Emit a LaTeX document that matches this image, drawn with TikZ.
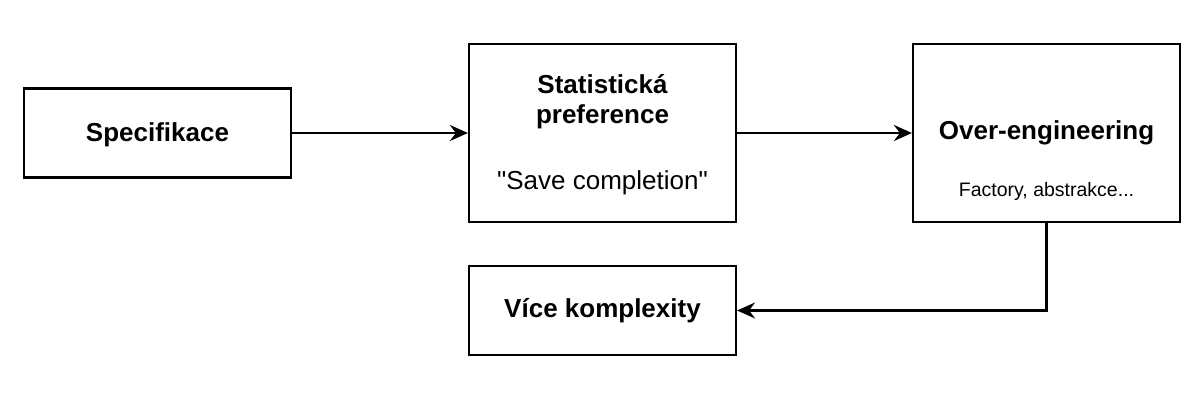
\documentclass[tikz,border=0pt]{standalone}
\usepackage{fontspec}
\setmainfont{Liberation Sans}[Ligatures=TeXOff]
\usetikzlibrary{arrows.meta}
\begin{document}
\begin{tikzpicture}[x=0.5pt,y=-0.5pt,
 box/.style={draw=black, line width=1.1pt, minimum width=133.5pt, inner sep=0pt, fill=white},
 lbl/.style={anchor=base, font=\fontsize{13}{15}\selectfont\bfseries, inner sep=0pt},
 sub/.style={anchor=base, font=\fontsize{13}{15}\selectfont, inner sep=0pt},
 small/.style={anchor=base, font=\fontsize{9.75}{12}\selectfont, inner sep=0pt},
 arr/.style={draw=black, line width=1.1pt, -{Stealth[length=9pt,width=8pt,inset=3pt]}}]
\useasboundingbox (0,0) rectangle (1200,400);
\node[box, minimum height=44.5pt] (spec) at (157.5,133) {};
\node[box, minimum height=89pt] (stat) at (602.5,133) {};
\node[box, minimum height=89pt] (over) at (1046.5,133) {};
\node[box, minimum height=44.5pt] (vice) at (602.5,310.5) {};
\node[lbl] (tspec) at (157.5,142) {Specifikace};
\node[lbl] (tstat1) at (602.5,94) {Statistická};
\node[lbl] (tstat2) at (602.5,124) {preference};
\node[sub] (tsave) at (602.5,190) {"Save completion"};
\node[lbl] (tover) at (1046.5,140) {Over-engineering};
\node[small] (tfact) at (1046.5,197) {Factory, abstrakce...};
\node[lbl] (tvice) at (602.5,318) {Více komplexity};
\draw[arr] (spec.east) -- (stat.west);
\draw[arr] (stat.east) -- (over.west);
\draw[arr] (over.south) |- (vice.east);
\end{tikzpicture}
\end{document}
